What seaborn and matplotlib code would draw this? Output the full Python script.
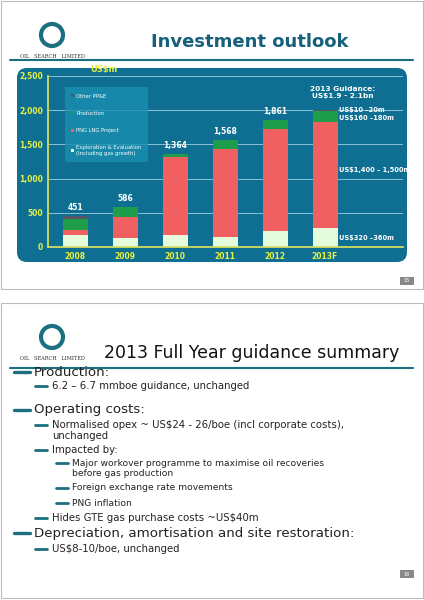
import numpy as np
import pandas as pd
import matplotlib
matplotlib.use("Agg")
import matplotlib.pyplot as plt
import seaborn as sns
from matplotlib.patches import FancyBboxPatch, Rectangle, Ellipse, Patch

years = ["2008", "2009", "2010", "2011", "2012", "2013F"]
exploration = [180, 126, 170, 141, 238, 277]
png_lng = [73, 312, 1143, 1289, 1494, 1552]
production = [160, 140, 49, 138, 125, 165]
other = [38, 8, 2, 0, 4, 16]
totals = [451, 586, 1364, 1568, 1861, None]

sns.set_theme(style="white")
plt.rcParams['font.family'] = ['DejaVu Sans']

fig = plt.figure(figsize=(4.24, 6), dpi=100)
fig.patch.set_facecolor("white")
bg = fig.add_axes([0, 0, 1, 1])
bg.set_xlim(0, 424)
bg.set_ylim(600, 0)
bg.axis("off")

# slide frames
bg.add_patch(Rectangle((1, 1), 422, 288, fill=False, ec="#bbbbbb", lw=0.8))
bg.add_patch(Rectangle((1, 303), 422, 295, fill=False, ec="#bbbbbb", lw=0.8))

def logo(y):
    bg.add_patch(Ellipse((52, y), 22, 22, fc="none", ec="#1a6f80", lw=3))
    bg.text(52, y + 21, "OIL   SEARCH   LIMITED", ha="center", va="center", fontsize=3.6,
            family="serif", color="#333")

logo(35)
logo(337)
bg.text(250, 42, "Investment outlook", ha="center", va="center", fontsize=13,
        fontweight="bold", color="#17607a")
bg.plot([10, 413], [60, 60], color="#1a6f80", lw=1.5)
bg.text(252, 353, "2013 Full Year guidance summary", ha="center", va="center",
        fontsize=12.5, color="#111")
bg.plot([10, 413], [368, 368], color="#1a6f80", lw=1.5)

# chart panel
bg.add_patch(FancyBboxPatch((17, 68), 390, 194, boxstyle="round,pad=0,rounding_size=10",
                            fc="#0e6f92", ec="none"))
for y0, t in [(281, "15"), (574, "16")]:
    bg.add_patch(Rectangle((400, y0 - 4), 14, 8, fc="#888", ec="none"))
    bg.text(407, y0, t, ha="center", va="center", fontsize=3.5, color="white")

# bottom slide text: (level, y, text, fontsize, bullet)
bullets = [
    (0, 372, "Production:", 9.6, True),
    (1, 386, "6.2 \u2013 6.7 mmboe guidance, unchanged", 7.3, True),
    (0, 410, "Operating costs:", 9.6, True),
    (1, 425, "Normalised opex ~ US$24 - 26/boe (incl corporate costs),", 7.3, True),
    (1, 436, "unchanged", 7.3, False),
    (1, 450, "Impacted by:", 7.3, True),
    (2, 463, "Major workover programme to maximise oil recoveries", 6.6, True),
    (2, 473, "before gas production", 6.6, False),
    (2, 488, "Foreign exchange rate movements", 6.6, True),
    (2, 503, "PNG inflation", 6.6, True),
    (1, 518, "Hides GTE gas purchase costs ~US$40m", 7.3, True),
    (0, 533, "Depreciation, amortisation and site restoration:", 9.6, True),
    (1, 549, "US$8-10/boe, unchanged", 7.3, True),
]
text_x = [34, 52, 72]
dash_x = [(14, 30), (35, 47), (56, 68)]
for lvl, y, t, fs, dash in bullets:
    if dash:
        bg.plot(dash_x[lvl], [y, y], color="#1a6f80", lw=2.4 if lvl == 0 else 2)
    bg.text(text_x[lvl], y, t, ha="left", va="center", fontsize=fs, color="#222")

# chart axes
ax = fig.add_axes([48 / 424, 1 - 247 / 600, 355 / 424, 171 / 600])
ax.set_facecolor("none")
df = pd.DataFrame({"year": years, "ee": exploration, "png": png_lng,
                   "prod": production, "other": other})
df["c1"] = df["ee"]
df["c2"] = df["c1"] + df["png"]
df["c3"] = df["c2"] + df["prod"]
df["c4"] = df["c3"] + df["other"]
layers = [("c4", "#555566", "Other PP&E"), ("c3", "#1e9e4a", "Production"),
          ("c2", "#f06060", "PNG LNG Project"),
          ("c1", "#e4fbdc", "Exploration & Evaluation\n(including gas growth)")]
for col, color, lab in layers:
    sns.barplot(data=df, x="year", y=col, color=color, width=0.5, ax=ax,
                saturation=1, linewidth=0, edgecolor="none")
ax.set_xlim(-0.54, 6.56)
ax.set_ylim(0, 2500)
ax.set_yticks([0, 500, 1000, 1500, 2000, 2500])
ax.set_yticklabels(["0", "500", "1,000", "1,500", "2,000", "2,500"])
ax.set_xlabel("")
ax.set_ylabel("")
ax.tick_params(colors="#e8f040", labelsize=5.5, length=0)
for lbl in ax.get_xticklabels() + ax.get_yticklabels():
    lbl.set_fontweight("bold")
ax.yaxis.grid(True, color="#9fd0e0", lw=0.6)
ax.set_axisbelow(True)
for s in ["top", "right"]:
    ax.spines[s].set_visible(False)
ax.spines["left"].set_color("#d8e060")
ax.spines["bottom"].set_color("#d8e060")
for i, t in enumerate(totals):
    if t:
        ax.text(i, df["c4"][i] + 60, f"{t:,}", ha="center", va="bottom", fontsize=5.5,
                color="white", fontweight="bold")
ax.text(0.3, 2530, "US$m", fontsize=6, color="#e8f040", fontweight="bold", va="bottom")
ax.text(5.35, 2180, "2013 Guidance:\nUS$1.9 - 2.1bn", ha="center", fontsize=5.3,
        color="white", fontweight="bold")
for y, t in [(2010, "US$10 \u201320m"), (1890, "US$160 \u2013180m"),
             (1120, "US$1,400 \u2013 1,500m"), (130, "US$320 \u2013360m")]:
    ax.text(5.28, y, t, fontsize=4.8, color="white", fontweight="bold", va="center")
handles = [Patch(fc=c, ec="none", label=l) for _, c, l in layers]
leg = ax.legend(handles=handles, loc="upper left", bbox_to_anchor=(0.045, 0.94),
                frameon=True, fontsize=3.8, labelspacing=2.3, handlelength=0.5,
                handleheight=0.5, handletextpad=0.4, borderpad=0.9)
leg.get_frame().set_facecolor("#1a8fb0")
leg.get_frame().set_edgecolor("none")
leg.get_frame().set_boxstyle("square")
for t in leg.get_texts():
    t.set_color("white")

fig.savefig("out.png", dpi=100)
